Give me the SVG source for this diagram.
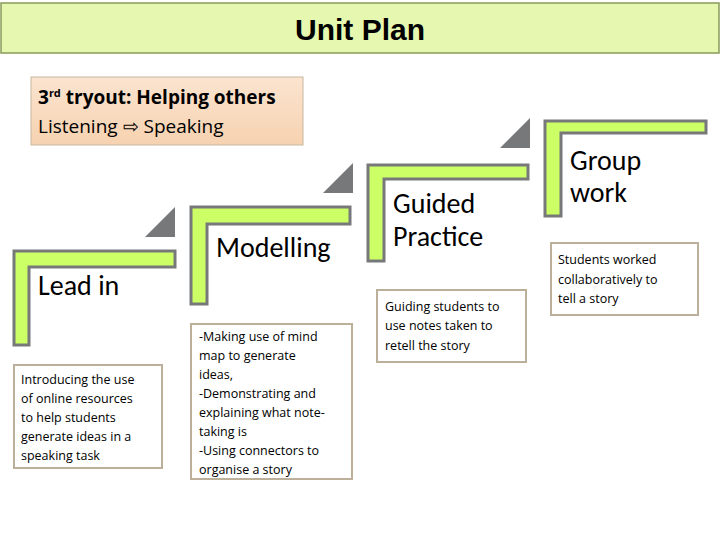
<svg xmlns="http://www.w3.org/2000/svg" width="720" height="540" viewBox="0 0 720 540">
<defs>
<linearGradient id="peach" x1="0" y1="0" x2="0" y2="1"><stop offset="0" stop-color="#fbe4d0"/><stop offset="1" stop-color="#f6d2b0"/></linearGradient>
</defs>
<style>
.step{fill:#ccff66;stroke:#77787a;stroke-width:3}
.tri{fill:#77787a}
.desc{fill:#fff;stroke:#bcb09a;stroke-width:2}
.big{font-family:Carlito,"Liberation Sans",sans-serif;font-size:28px;fill:#000}
.small{font-family:"Open Sans","DejaVu Sans",sans-serif;font-size:12.5px;fill:#000}
</style>
<rect width="720" height="540" fill="#fff"/>
<g id="title"><rect x="1" y="3" width="718" height="50" fill="#e6f8b0" stroke="#8a9a5a" stroke-width="1.5"/>
<text x="360" y="40" text-anchor="middle" font-family="'Liberation Sans',sans-serif" font-weight="bold" font-size="30">Unit Plan</text></g>
<g id="subtitle"><rect x="31" y="77" width="272" height="68" fill="url(#peach)" stroke="#c8b8a0" stroke-width="1"/>
<text x="38" y="104" font-family="'Open Sans',sans-serif" font-size="19" font-weight="bold">3<tspan font-size="11" dy="-7">rd</tspan><tspan dy="7"> tryout: Helping others</tspan></text>
<text x="38" y="133" font-family="'Open Sans',sans-serif" font-size="19">Listening ⇨ Speaking</text></g>
<g id="leadin">
<polygon class="tri" points="145,237 175,207 175,237"/>
<polygon class="step" points="14,251 175,251 175,267 29,267 29,345 14,345"/>
<text class="big" x="38" y="295">Lead in</text>
<rect class="desc" x="14" y="365" width="148" height="103"/>
<text class="small"><tspan x="21" y="384">Introducing the use</tspan><tspan x="21" y="403">of online resources</tspan><tspan x="21" y="422">to help students</tspan><tspan x="21" y="441">generate ideas in a</tspan><tspan x="21" y="460">speaking task</tspan></text>
</g>
<g id="modelling">
<polygon class="tri" points="323,193 353,163 353,193"/>
<polygon class="step" points="191,207 350,207 350,224 207,224 207,304 191,304"/>
<text class="big" x="216" y="257">Modelling</text>
<rect class="desc" x="191" y="324" width="161" height="155"/>
<text class="small"><tspan x="199" y="341">-Making use of mind</tspan><tspan x="199" y="360">map to generate</tspan><tspan x="199" y="379">ideas,</tspan><tspan x="199" y="398">-Demonstrating and</tspan><tspan x="199" y="417">explaining what note-</tspan><tspan x="199" y="436">taking is</tspan><tspan x="199" y="455">-Using connectors to</tspan><tspan x="199" y="474">organise a story</tspan></text>
</g>
<g id="guided">
<polygon class="tri" points="500,148 530,118 530,148"/>
<polygon class="step" points="368,165 528,165 528,179 384,179 384,261 368,261"/>
<text class="big"><tspan x="393" y="213">Guided</tspan><tspan x="393" y="246">Practice</tspan></text>
<rect class="desc" x="377" y="290" width="149" height="72"/>
<text class="small"><tspan x="385" y="311">Guiding students to</tspan><tspan x="385" y="330">use notes taken to</tspan><tspan x="385" y="350">retell the story</tspan></text>
</g>
<g id="group">
<polygon class="step" points="545,121 706,121 706,133 561,133 561,216 545,216"/>
<text class="big"><tspan x="570" y="170">Group</tspan><tspan x="570" y="202">work</tspan></text>
<rect class="desc" x="551" y="243" width="147" height="72"/>
<text class="small"><tspan x="558" y="264">Students worked</tspan><tspan x="558" y="284">collaboratively to</tspan><tspan x="558" y="303">tell a story</tspan></text>
</g>
<g id="connectors"/>
</svg>
